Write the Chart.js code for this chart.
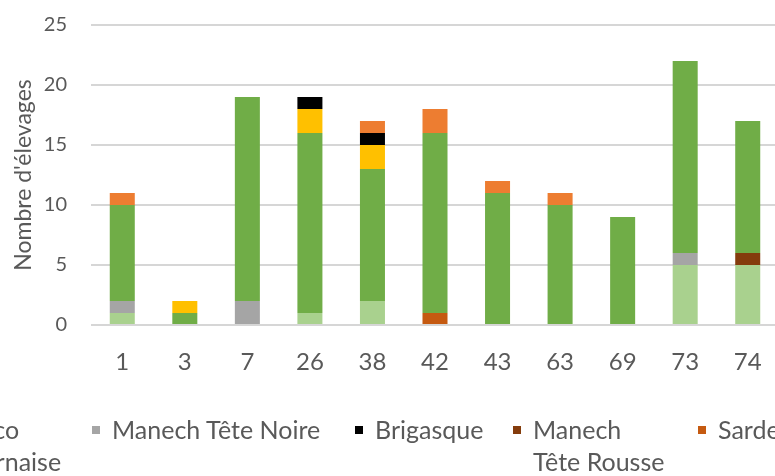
<!DOCTYPE html>
<html lang="fr">
<head>
    <meta charset="UTF-8">
    <script src="https://cdn.jsdelivr.net/npm/chart.js"></script>
    <title>Nombre d'élevages par département</title>
    <style>
        body { margin: 0; overflow: hidden; background: #fff; }
        .wrap { position: relative; width: 790px; height: 476px; }
        #legende { position: absolute; left: 0; top: 0; width: 1200px; height: 476px; pointer-events: none;
                   font-family: Lato, sans-serif; font-size: 25px; color: #595959; }
        .item { position: absolute; top: 413px; line-height: 32px; white-space: nowrap; }
        .item .carre { position: absolute; left: 0; top: 13px; width: 8px; height: 8px; }
        .item .txt { position: absolute; left: 20px; top: 0; }
    </style>
</head>
<body>
<div class="wrap">
    <canvas id="barres"></canvas>
    <div id="legende"></div>
</div>

<script>
    // départements
    const departements = ['1', '3', '7', '26', '38', '42', '43', '63', '69', '73', '74'];

    // nombre d'élevages par race (ordre d'empilement, du bas vers le haut)
    const bascoBearnaise   = [1, 0, 0, 1, 2, 0, 0, 0, 0, 5, 5];
    const manechTeteNoire  = [1, 0, 2, 0, 0, 0, 0, 0, 0, 1, 0];
    const manechTeteRousse = [0, 0, 0, 0, 0, 0, 0, 0, 0, 0, 1];
    const sarde            = [0, 0, 0, 0, 0, 1, 0, 0, 0, 0, 0];
    const lacaune          = [8, 1, 17, 15, 11, 15, 11, 10, 9, 16, 11];
    const corse            = [0, 1, 0, 2, 2, 0, 0, 0, 0, 0, 0];
    const brigasque        = [0, 0, 0, 1, 1, 0, 0, 0, 0, 0, 0];
    const autres           = [1, 0, 0, 0, 1, 2, 1, 1, 0, 0, 0];

    const yTicks = [0, 5, 10, 15, 20, 25];

    const datasets = [
        { label: 'Basco\nBéarnaise', data: bascoBearnaise, backgroundColor: '#a9d18e' },
        { label: 'Manech Tête Noire', data: manechTeteNoire, backgroundColor: '#a5a5a5' },
        { label: 'Manech\nTête Rousse', data: manechTeteRousse, backgroundColor: '#843c0c' },
        { label: 'Sarde', data: sarde, backgroundColor: '#c55a11' },
        { label: 'Lacaune', data: lacaune, backgroundColor: '#70ad47' },
        { label: 'Corse', data: corse, backgroundColor: '#ffc000' },
        { label: 'Brigasque', data: brigasque, backgroundColor: '#000000' },
        { label: 'Autres', data: autres, backgroundColor: '#ed7d31' }
    ];

    const ctx = document.getElementById('barres').getContext('2d');
    const chart = new Chart(ctx, {
        type: 'bar',
        data: { labels: departements, datasets: datasets },
        options: {
            responsive: true,
            maintainAspectRatio: false,
            animation: false,
            layout: { padding: { top: 25, right: 11, bottom: 91, left: 0 } },
            datasets: { bar: { categoryPercentage: 1, barPercentage: 0.4 } },
            plugins: { legend: { display: false }, tooltip: { enabled: false } },
            scales: {
                x: {
                    stacked: true,
                    grid: { display: false },
                    border: { display: false },
                    ticks: { color: '#595959', font: { family: 'Lato', size: 24 }, padding: 15, maxRotation: 0 },
                    afterFit: s => { s.height = 60; s.paddingLeft = 0; s.paddingRight = 0; }
                },
                y: {
                    stacked: true,
                    min: 0,
                    max: 25,
                    afterBuildTicks: s => { s.ticks = yTicks.map(v => ({ value: v })); },
                    grid: { color: '#d6d6d6', lineWidth: 2, drawTicks: false },
                    border: { display: false },
                    ticks: { color: '#595959', font: { family: 'Lato', size: 20 }, padding: 24 },
                    title: {
                        display: true,
                        text: "Nombre d'élevages",
                        color: '#595959',
                        font: { family: 'Lato', size: 23 },
                        padding: { top: 10, bottom: 0 }
                    },
                    afterFit: s => { s.width = 91; s.paddingTop = 0; s.paddingBottom = 0; }
                }
            }
        }
    });

    // légende en bas (ordre et positions de la légende d'origine)
    const ordreLegende = [0, 1, 6, 2, 3, 4, 5, 7];
    const posLegende = [-66, 92, 355, 513, 698, 860, 1000, 1120];
    const leg = document.getElementById('legende');
    ordreLegende.forEach((i, k) => {
        const ds = chart.data.datasets[i];
        const item = document.createElement('div');
        item.className = 'item';
        item.style.left = posLegende[k] + 'px';
        const carre = document.createElement('span');
        carre.className = 'carre';
        carre.style.background = ds.backgroundColor;
        const txt = document.createElement('span');
        txt.className = 'txt';
        txt.innerHTML = ds.label.split('\n').join('<br>');
        item.appendChild(carre);
        item.appendChild(txt);
        leg.appendChild(item);
    });
</script>
</body>
</html>
